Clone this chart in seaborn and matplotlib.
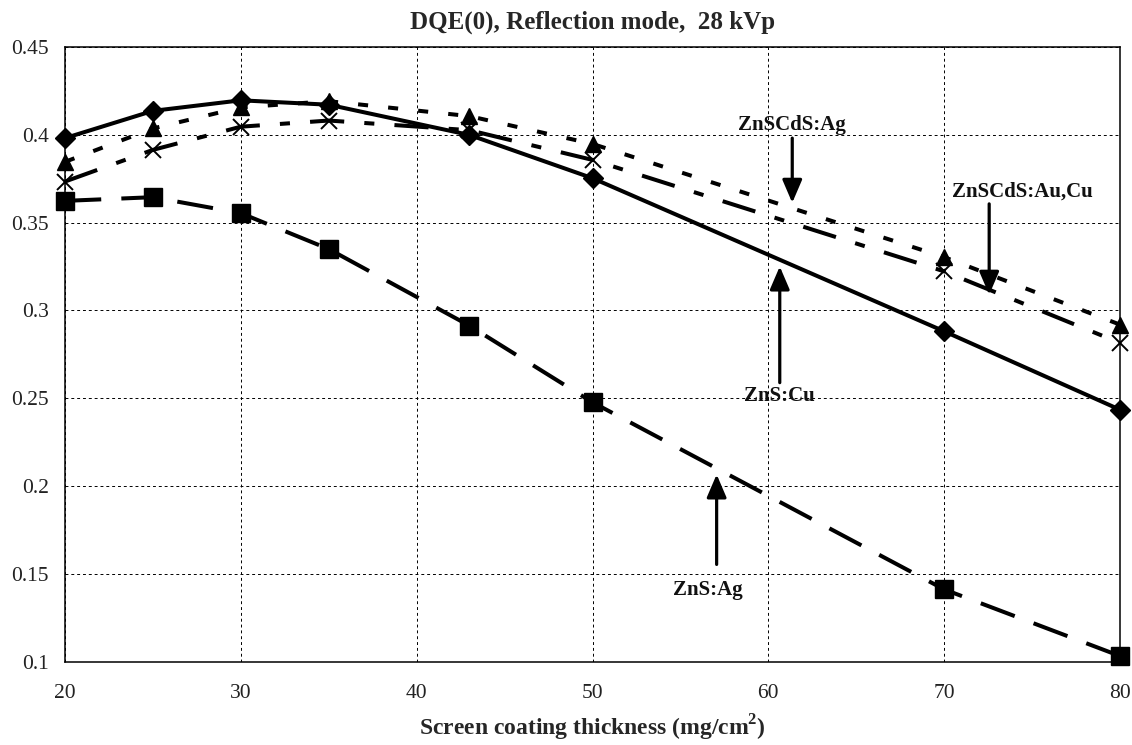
import matplotlib
matplotlib.use("Agg")
import matplotlib.pyplot as plt
import seaborn as sns
import pandas as pd

# ---- data ----
thickness = [20, 25, 30, 35, 43, 50, 70, 80]
zns_cu = [0.398, 0.4135, 0.4195, 0.417, 0.3998, 0.3752, 0.2881, 0.2435]
znscds_ag = [0.3845, 0.4035, 0.4155, 0.419, 0.4105, 0.3947, 0.3303, 0.2919]
znscds_aucu = [0.3733, 0.3913, 0.4045, 0.408, 0.4025, 0.3856, 0.3222, 0.2815]
zns_ag = [0.3623, 0.3644, 0.3553, 0.3349, 0.2913, 0.2477, 0.1413, 0.1034]

x_ticks = [20, 30, 40, 50, 60, 70, 80]
y_ticks = [0.1, 0.15, 0.2, 0.25, 0.3, 0.35, 0.4, 0.45]
y_tick_labels = ["0.1", "0.15", "0.2", "0.25", "0.3", "0.35", "0.4", "0.45"]

title = "DQE(0), Reflection mode,  28 kVp"
xlabel = r"Screen coating thickness (mg/cm$^\mathbf{2}$)"

# annotation: label, text pos, arrow start, arrow tip
annotations = [
    ("ZnSCdS:Ag", (61.36, 0.4055), (61.36, 0.398), (61.36, 0.3612)),
    ("ZnSCdS:Au,Cu", (74.47, 0.3676), (72.56, 0.3606), (72.56, 0.3089)),
    ("ZnS:Cu", (60.6, 0.2511), (60.65, 0.2589), (60.65, 0.325)),
    ("ZnS:Ag", (56.59, 0.1409), (57.06, 0.1555), (57.06, 0.2067)),
]

sns.set_style("white")
plt.rcParams["font.family"] = ["Liberation Serif", "DejaVu Serif"]
plt.rcParams["mathtext.fontset"] = "custom"
plt.rcParams["mathtext.rm"] = "Liberation Serif"
plt.rcParams["mathtext.bf"] = "Liberation Serif:bold"

fig = plt.figure(figsize=(11.32, 7.45), dpi=100)
ax = fig.add_axes([65 / 1132, 1 - 662 / 745, (1120 - 65) / 1132, (662 - 46.7) / 745])

lw = 2.9
series = [
    ("ZnS:Ag", zns_ag, dict(linestyle=(0, (9, 5)), marker="s", markersize=12.5)),
    ("ZnSCdS:Au,Cu", znscds_aucu, dict(linestyle=(0, (8.5, 5, 2.5, 5)), marker="x", markersize=11, markeredgewidth=1.4)),
    ("ZnSCdS:Ag", znscds_ag, dict(linestyle=(0, (2.5, 5)), marker="^", markersize=11.5)),
    ("ZnS:Cu", zns_cu, dict(linestyle="-", marker="D", markersize=10)),
]
for name, vals, kw in series:
    df = pd.DataFrame({"x": thickness, "y": vals})
    kw.setdefault("markeredgewidth", 1.0)
    sns.lineplot(data=df, x="x", y="y", ax=ax, color="black", linewidth=lw,
                 markeredgecolor="black", markerfacecolor="black",
                 estimator=None, sort=False, clip_on=False, zorder=3, **kw)

ax.set_xlim(20, 80)
ax.set_ylim(0.1, 0.45)
ax.set_xticks(x_ticks)
ax.set_yticks(y_ticks)
ax.set_yticklabels(y_tick_labels)
ax.grid(True, color="black", linestyle=(0, (3, 3)), linewidth=0.7)
for s in ax.spines.values():
    s.set_visible(True)
    s.set_color("black")
    s.set_linewidth(1.1)
ax.tick_params(axis="both", direction="out", length=4.5, width=1.0, color="black",
               labelsize=15.5, labelcolor="#222222")
ax.tick_params(axis="x", pad=11.5)
ax.tick_params(axis="y", pad=7)
ax.set_xlabel(xlabel, fontsize=17, fontweight="bold", labelpad=7)
ax.set_ylabel("")
ax.set_title(title, fontsize=18, fontweight="bold", pad=13)

for label, tpos, start, tip in annotations:
    ax.text(tpos[0], tpos[1], label, ha="center", va="center", fontsize=15,
            fontweight="bold", color="#111111", zorder=5)
    ax.annotate("", xy=tip, xytext=start,
                arrowprops=dict(arrowstyle="-|>,head_length=0.7,head_width=0.3",
                                lw=2.3, color="black", shrinkA=0, shrinkB=0,
                                mutation_scale=20), zorder=5)

fig.savefig("out.png", dpi=100)
